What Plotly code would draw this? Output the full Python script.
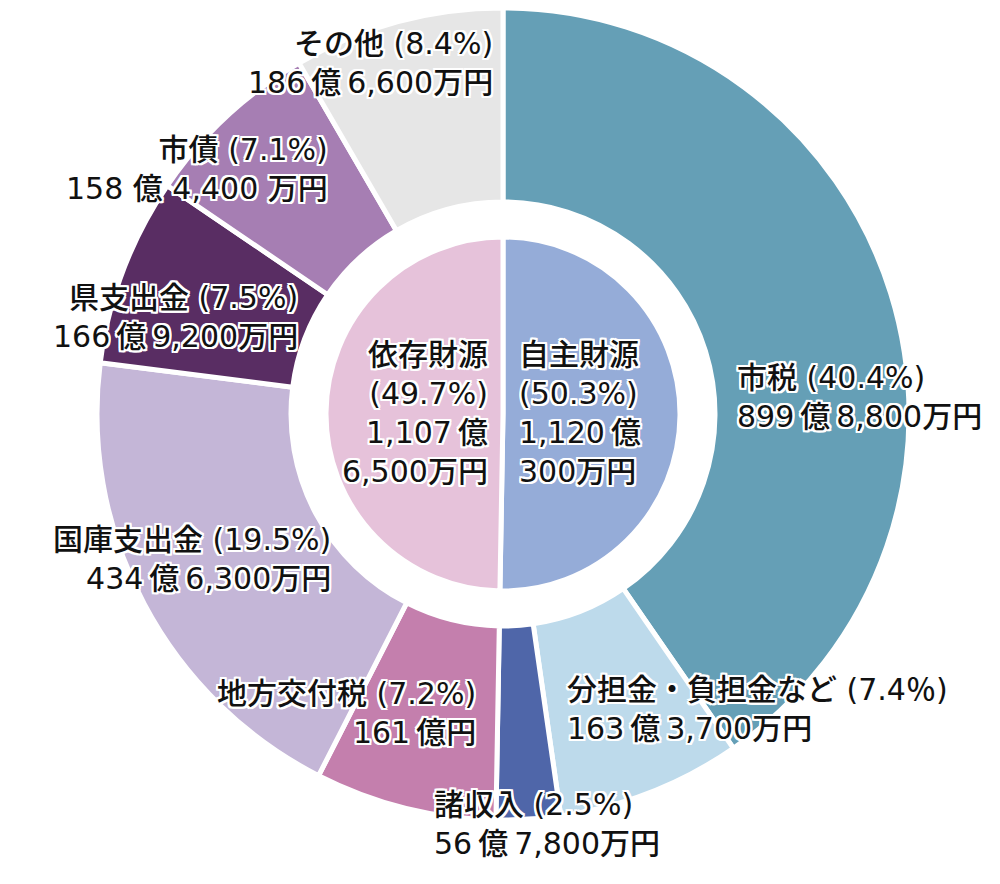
import plotly.graph_objects as go

# outer ring: clockwise from 12 o'clock
outer_labels = ["市税", "分担金・負担金など", "諸収入", "地方交付税", "国庫支出金", "県支出金", "市債", "その他"]
outer_values = [8998800, 1633700, 567800, 1610000, 4346300, 1669200, 1584400, 1866600]  # 万円
outer_pct = [40.4, 7.4, 2.5, 7.2, 19.5, 7.5, 7.1, 8.4]
outer_colors = ["#659fb6", "#bddaeb", "#4f66a9", "#c47fad", "#c4b6d7", "#592d63", "#a67eb3", "#e6e6e6"]

inner_labels = ["自主財源", "依存財源"]
inner_values = [11200300, 11076500]
inner_pct = [50.3, 49.7]
inner_colors = ["#95acd8", "#e6c2da"]

T = "\u2009"  # thin space
outer_text = [
    f"市税 (40.4%)<br>899{T}億{T}8,800万円",
    f"分担金・負担金など (7.4％)<br>163{T}億{T}3,700万円",
    f"諸収入 (2.5%)<br>56{T}億{T}7,800万円",
    f"地方交付税 (7.2%)<br>161{T}億円",
    f"国庫支出金 (19.5%)<br>434{T}億{T}6,300万円",
    f"県支出金 (7.5%)<br>166{T}億{T}9,200万円",
    "市債 (7.1%)<br>158 億 4,400 万円",
    f"その他 (8.4%)<br>186{T}億{T}6,600万円",
]
inner_text = [
    f"自主財源<br>(50.3%)<br>1,120{T}億<br>300万円",
    f"依存財源<br>(49.7%)<br>1,107{T}億<br>6,500万円",
]

W, H = 1000, 884
cx, cy = 495, 406          # figure px (page has an 8px body margin)
R_out, R_hole, R_in = 406, 212, 177

def dom(r):
    return dict(x=[(cx - r) / W, (cx + r) / W],
                y=[max(0, (H - cy - r) / H), min(1, (H - cy + r) / H)])

fig = go.Figure()
fig.add_trace(go.Pie(labels=outer_labels, values=outer_values, sort=False, direction="clockwise", rotation=0,
                     hole=R_hole / R_out, domain=dom(R_out), textinfo="none", hoverinfo="label+percent",
                     marker=dict(colors=outer_colors, line=dict(color="white", width=5))))
fig.add_trace(go.Pie(labels=inner_labels, values=inner_values, sort=False, direction="clockwise", rotation=0,
                     domain=dom(R_in), textinfo="none", hoverinfo="label+percent",
                     marker=dict(colors=inner_colors, line=dict(color="white", width=5))))

outline = ",".join(f"{dx}px {dy}px 0 #fff" for dx, dy in
                   [(-2, 0), (2, 0), (0, -2), (0, 2), (-2, -2), (2, -2), (-2, 2), (2, 2), (-1, -2), (1, 2), (-2, 1), (2, -1)])
font = dict(family="DejaVu Sans, Noto Sans CJK JP", size=30, color="#111", weight=500, shadow=outline)

# (x px, y px, anchor) for each label block, figure coords
outer_pos = [(727, 389, "left"), (557, 701, "left"), (424, 816, "left"), (470, 705, "right"),
             (325, 551, "right"), (292, 309, "right"), (322, 161, "right"), (487, 55, "right")]
inner_pos = [(509, 405, "left"), (482, 405, "right")]

for txt, (x, y, anc) in zip(outer_text + inner_text, outer_pos + inner_pos):
    fig.add_annotation(text=txt, x=x / W, y=1 - y / H, xref="paper", yref="paper", xanchor=anc, yanchor="middle",
                       align=anc, showarrow=False, font=font)

fig.update_layout(width=W, height=H, margin=dict(l=0, r=0, t=0, b=0), showlegend=False,
                  paper_bgcolor="white", plot_bgcolor="white")
fig.write_html("out.html")
